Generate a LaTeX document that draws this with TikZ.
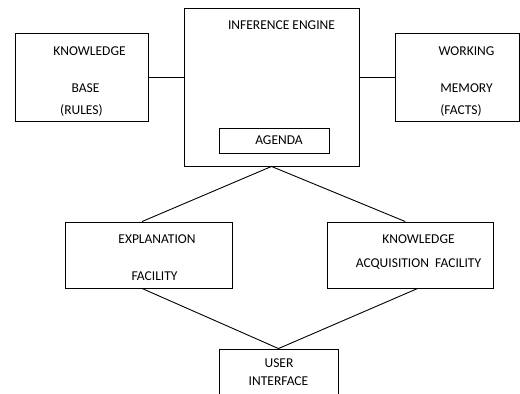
\documentclass[tikz,border=0pt]{standalone}
\usepackage{fontspec}
\setmainfont{Carlito}
\begin{document}
\begin{tikzpicture}[x=1pt,y=-1pt,line width=0.9pt,
  box/.style={draw, rectangle, inner sep=0pt},
  txt/.style={inner sep=0pt, text height=8.7pt, text depth=0pt, font=\fontsize{13.5}{16}\selectfont}]
\useasboundingbox (0,0) rectangle (520,394);
\clip (0,0) rectangle (520,394);
% boxes
\node[box, minimum width=175pt, minimum height=158pt] (ie) at (271.5,87) {};
\node[box, minimum width=110pt, minimum height=25pt] (ag) at (274,140.5) {};
\node[box, minimum width=133pt, minimum height=88pt] (kb) at (81.5,77) {};
\node[box, minimum width=124pt, minimum height=88pt] (wm) at (457,77) {};
\node[box, minimum width=167pt, minimum height=66pt] (ef) at (148.5,255) {};
\node[box, minimum width=166pt, minimum height=66pt] (ka) at (410,255) {};
\node[box, minimum width=119pt, minimum height=70pt] (ui) at (278.5,384) {};
% labels
\node[txt] (ie1) at (281.5,25) {INFERENCE ENGINE};
\node[txt] (ag1) at (279,140) {AGENDA};
\node[txt] (kb1) at (89.5,51) {KNOWLEDGE};
\node[txt] (kb2) at (85.5,88) {BASE};
\node[txt] (kb3) at (81.5,110) {(RULES)};
\node[txt] (wm1) at (466.5,51) {WORKING};
\node[txt] (wm2) at (466.5,88) {MEMORY};
\node[txt] (wm3) at (461,110) {(FACTS)};
\node[txt] (ef1) at (157,239) {EXPLANATION};
\node[txt] (ef2) at (154.5,276) {FACILITY};
\node[txt] (ka1) at (418.5,239) {KNOWLEDGE};
\node[txt] (ka2) at (418.5,263) {ACQUISITION\ \ FACILITY};
\node[txt] (ui1) at (279,363) {USER};
\node[txt] (ui2) at (278.5,381) {INTERFACE};
% connectors
\draw (kb.east) -- (kb.east -| ie.west);
\draw (ie.east |- wm.west) -- (wm.west);
\draw (ef.101) -- (ie.south) -- (ka.98.6);
\draw (ef.259) -- (ui.north) -- (ka.283.6);
\end{tikzpicture}
\end{document}
